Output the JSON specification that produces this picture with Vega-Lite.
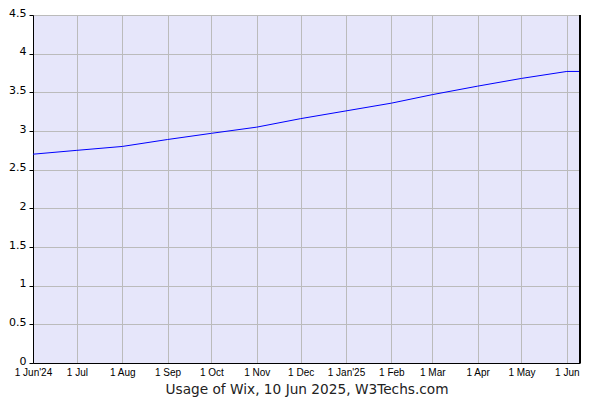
{
  "$schema": "https://vega.github.io/schema/vega-lite/v6.json",
  "autosize": "none",
  "width": 547,
  "height": 348,
  "padding": {"left": 33, "top": 15, "right": 20, "bottom": 37},
  "background": "white",
  "config": {"view": {"fill": "#e6e6fa", "stroke": null}},
  "data": {"values": [
    {"date": "2024-06-01", "usage": 2.70},
    {"date": "2024-07-01", "usage": 2.75},
    {"date": "2024-08-01", "usage": 2.80},
    {"date": "2024-09-01", "usage": 2.89},
    {"date": "2024-10-01", "usage": 2.97},
    {"date": "2024-11-01", "usage": 3.05},
    {"date": "2024-12-01", "usage": 3.16},
    {"date": "2025-01-01", "usage": 3.26},
    {"date": "2025-02-01", "usage": 3.36},
    {"date": "2025-03-01", "usage": 3.47},
    {"date": "2025-04-01", "usage": 3.58},
    {"date": "2025-05-01", "usage": 3.68},
    {"date": "2025-06-01", "usage": 3.77},
    {"date": "2025-06-10", "usage": 3.77}
  ]},
  "layer": [
    {
      "mark": {"type": "line", "color": "#0000ff", "strokeWidth": 1, "clip": true},
      "encoding": {
        "x": {
          "field": "date", "type": "temporal",
          "scale": {"type": "utc", "domain": [{"year": 2024, "month": 6, "date": 1, "utc": true}, {"year": 2025, "month": 6, "date": 10, "utc": true}], "nice": false},
          "axis": {
            "tickCount": {"interval": "month", "step": 1},
            "labelExpr": "(utcmonth(datum.value) == 0 || (utcmonth(datum.value) == 5 && utcyear(datum.value) == 2024)) ? utcFormat(datum.value, '1 %b\\'%y') : utcFormat(datum.value, '1 %b')",
            "labelFont": "Liberation Sans", "labelFontSize": 10, "labelColor": "#000000",
            "labelPadding": 4, "labelAngle": 0, "labelOverlap": false, "labelFlush": false,
            "ticks": false, "domainColor": "#000000", "domainWidth": 1,
            "grid": true, "gridColor": "#bbbbbb", "gridWidth": 1,
            "title": "Usage of Wix, 10 Jun 2025, W3Techs.com",
            "titleFont": "DejaVu Sans", "titleFontSize": 13.7, "titleFontWeight": "normal", "titleColor": "#222222", "titlePadding": 5
          }
        },
        "y": {
          "field": "usage", "type": "quantitative",
          "scale": {"domain": [0, 4.5], "nice": false, "zero": true},
          "axis": {
            "values": [0, 0.5, 1, 1.5, 2, 2.5, 3, 3.5, 4, 4.5],
            "format": ".1~f",
            "labelFont": "DejaVu Sans", "labelFontSize": 11, "labelColor": "#000000",
            "labelPadding": 3, "tickSize": 4, "tickColor": "#000000",
            "labelBaseline": "middle", "labelOffset": -2,
            "domainColor": "#000000", "domainWidth": 1,
            "grid": true, "gridColor": "#bbbbbb", "gridWidth": 1,
            "title": null
          }
        }
      }
    },
    {
      "mark": {"type": "rule", "color": "#000000", "strokeWidth": 1},
      "encoding": {
        "x": {"datum": {"year": 2025, "month": 6, "date": 10, "utc": true}, "type": "temporal"}
      }
    }
  ]
}
